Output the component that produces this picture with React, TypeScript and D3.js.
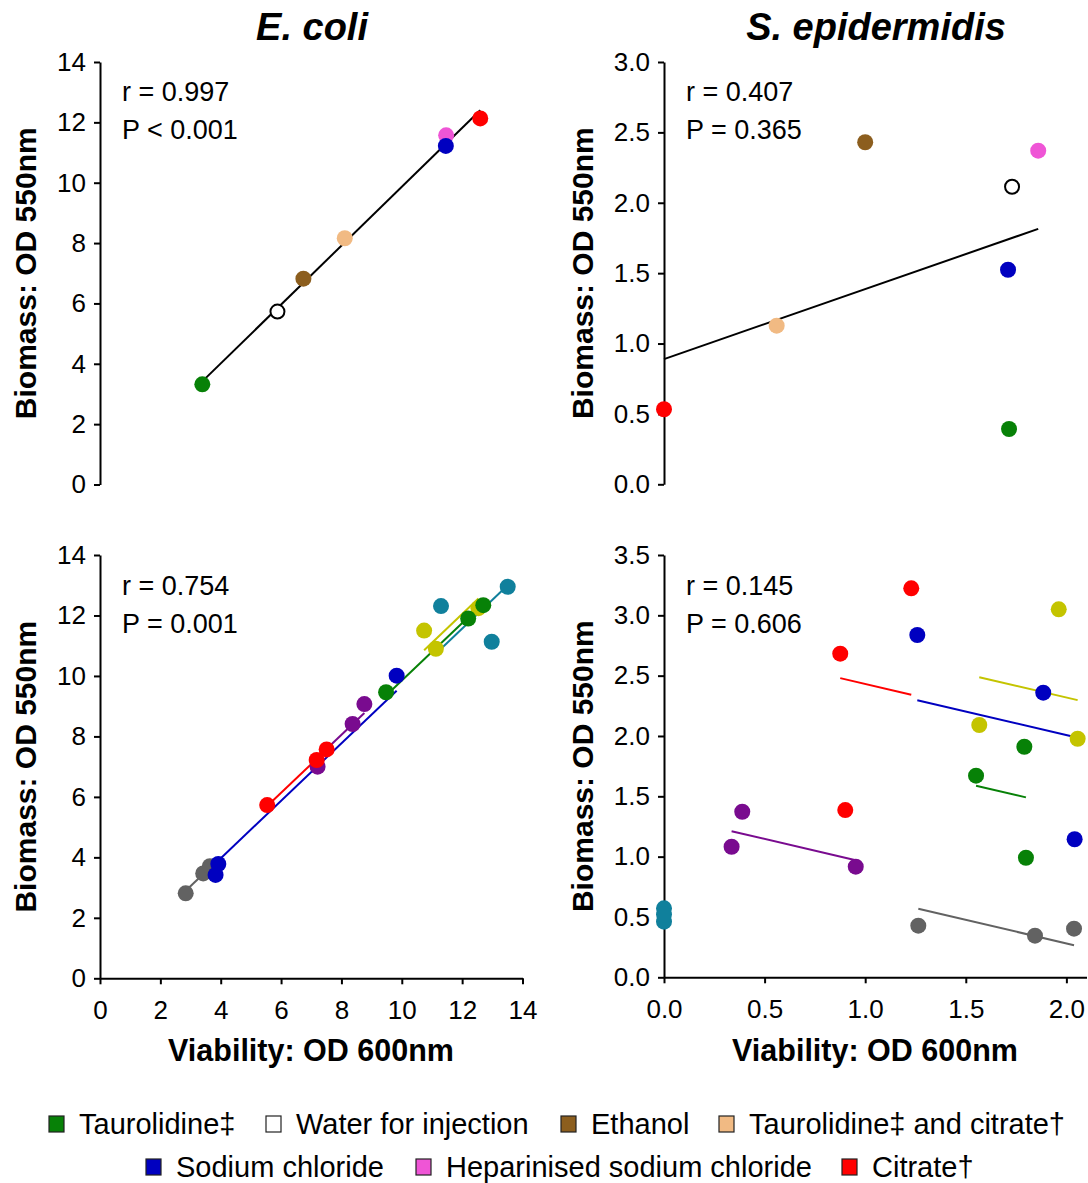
import React, { useEffect, useRef } from 'react';
import * as d3 from 'd3';

// agents (top panels + legend), in legend order
const agentNames = ['Taurolidine‡', 'Water for injection', 'Ethanol', 'Taurolidine‡ and citrate†',
  'Sodium chloride', 'Heparinised sodium chloride', 'Citrate†'];
const agentColors = ['#078107', '#ffffff', '#8c5e1e', '#f1ba83', '#0000c0', '#ef55d6', '#ff0000'];
const agentDrawOrder = [0, 1, 2, 3, 5, 4, 6];

const ecoliViability = [3.39, 5.88, 6.74, 8.11, 11.46, 11.47, 12.60];
const ecoliBiomass = [3.32, 5.73, 6.82, 8.16, 11.22, 11.57, 12.13];
const sepiViability = [1.715, 1.73, 1.0, 0.56, 1.71, 1.86, 0.0];
const sepiBiomass = [0.393, 2.114, 2.43, 1.127, 1.524, 2.37, 0.533];

// bottom panels: replicate groups
const groupColors = ['#626262', '#10809c', '#790b8f', '#c4c400', '#0000c0', '#ff0000', '#078107'];
const ecoliGroupViability = [
  [2.84, 3.42, 3.64], [11.30, 12.98, 13.51], [7.21, 8.37, 8.76], [10.74, 11.13, 12.54],
  [3.92, 3.83, 9.83], [5.54, 7.18, 7.51], [9.48, 12.20, 12.70]];
const ecoliGroupBiomass = [
  [2.81, 3.47, 3.71], [12.31, 11.13, 12.95], [7.00, 8.41, 9.07], [11.50, 10.90, 12.24],
  [3.78, 3.42, 10.01], [5.73, 7.22, 7.57], [9.46, 11.90, 12.34]];
const sepiGroupViability = [
  [1.264, 1.844, 2.038], [0.0, 0.0, 0.0], [0.336, 0.389, 0.953], [1.567, 1.962, 2.056],
  [1.259, 1.885, 2.041], [0.876, 1.229, 0.901], [1.551, 1.791, 1.799]];
const sepiGroupBiomass = [
  [0.428, 0.345, 0.403], [0.572, 0.461, 0.52], [1.082, 1.372, 0.917], [2.091, 3.05, 1.977],
  [2.837, 2.359, 1.144], [2.682, 3.224, 1.386], [1.671, 1.911, 0.991]];

const statLines = [
  ['r = 0.997', 'P < 0.001'],
  ['r = 0.407', 'P = 0.365'],
  ['r = 0.754', 'P = 0.001'],
  ['r = 0.145', 'P = 0.606'],
];
const titles = ['E. coli', 'S. epidermidis'];
const ecoliTicks = [0, 2, 4, 6, 8, 10, 12, 14];
const sepiTopTicks = [0, 0.5, 1, 1.5, 2, 2.5, 3];
const sepiBottomTicks = [0, 0.5, 1, 1.5, 2, 2.5, 3, 3.5];
const sepiXTicks = [0, 0.5, 1, 1.5, 2];

const FONT = '"Liberation Sans", Arial, sans-serif';

const App = () => {
  const svgRef = useRef();

  useEffect(() => {
    const svg = d3.select(svgRef.current);
    svg.selectAll('*').remove();

    const xE = d3.scaleLinear().domain([0, 14]).range([100, 522.5]);
    const xS = d3.scaleLinear().domain([0, 2.1]).range([664, 1086.5]);

    const panels = [
      { x: xE, y: d3.scaleLinear().domain([0, 14]).range([484.5, 62]), yt: ecoliTicks, fmt: d3.format('d'), stats: statLines[0], tx: 122, ty: 101, lx: 25 },
      { x: xS, y: d3.scaleLinear().domain([0, 3]).range([484.3, 62]), yt: sepiTopTicks, fmt: d3.format('.1f'), stats: statLines[1], tx: 686, ty: 101, lx: 582 },
      { x: xE, y: d3.scaleLinear().domain([0, 14]).range([978.3, 555]), yt: ecoliTicks, fmt: d3.format('d'), stats: statLines[2], tx: 122, ty: 595, lx: 25, xt: ecoliTicks },
      { x: xS, y: d3.scaleLinear().domain([0, 3.5]).range([977.3, 555]), yt: sepiBottomTicks, fmt: d3.format('.1f'), stats: statLines[3], tx: 686, ty: 595, lx: 582, xt: sepiXTicks },
    ];

    const styleAxis = g => {
      g.attr('font-family', FONT).attr('font-size', 26);
      g.select('.domain').attr('stroke-width', 2);
      g.selectAll('.tick line').attr('stroke-width', 2);
      g.selectAll('.tick text').attr('fill', '#000');
    };

    // titles
    svg.selectAll('text.title').data(titles).join('text')
      .attr('class', 'title')
      .attr('x', (d, i) => i === 0 ? 312 : 876)
      .attr('y', 40)
      .attr('text-anchor', 'middle')
      .attr('font-family', FONT)
      .attr('font-size', 38)
      .attr('font-weight', 'bold')
      .attr('font-style', 'italic')
      .text(d => d);

    panels.forEach((p, pi) => {
      const g = svg.append('g');
      const [y0, y1] = p.y.range();

      g.append('g')
        .attr('transform', `translate(${p.x.range()[0]},0)`)
        .call(d3.axisLeft(p.y).tickValues(p.yt).tickFormat(p.fmt).tickSize(6).tickSizeOuter(0).tickPadding(8))
        .call(styleAxis);

      if (p.xt) {
        g.append('g')
          .attr('transform', `translate(0,${y0})`)
          .call(d3.axisBottom(p.x).tickValues(p.xt).tickFormat(pi === 2 ? d3.format('d') : d3.format('.1f')).tickSize(6).tickSizeOuter(0).tickPadding(16))
          .call(styleAxis);
        g.append('text')
          .attr('x', pi === 2 ? 311 : 875)
          .attr('y', 1061)
          .attr('text-anchor', 'middle')
          .attr('font-family', FONT)
          .attr('font-size', 30.5)
          .attr('font-weight', 'bold')
          .text('Viability: OD 600nm');
      }

      g.append('text')
        .attr('transform', `translate(${p.lx},${(y0 + y1) / 2}) rotate(-90)`)
        .attr('dy', '0.36em')
        .attr('text-anchor', 'middle')
        .attr('font-family', FONT)
        .attr('font-size', 30)
        .attr('font-weight', 'bold')
        .text('Biomass: OD 550nm');

      g.selectAll('text.stat').data(p.stats).join('text')
        .attr('class', 'stat')
        .attr('x', p.tx)
        .attr('y', (d, i) => p.ty + i * 37.5)
        .attr('font-family', FONT)
        .attr('font-size', 27)
        .text(d => d);

      if (pi < 2) {
        // simple regression over agent means
        const xs = pi === 0 ? ecoliViability : sepiViability;
        const ys = pi === 0 ? ecoliBiomass : sepiBiomass;
        const mx = d3.mean(xs), my = d3.mean(ys);
        const sxy = d3.sum(xs, (v, i) => (v - mx) * (ys[i] - my));
        const sxx = d3.sum(xs, v => (v - mx) ** 2);
        const b = sxy / sxx, a = my - b * mx;
        const [xmin, xmax] = d3.extent(xs);
        g.append('line')
          .attr('x1', p.x(xmin)).attr('y1', p.y(a + b * xmin))
          .attr('x2', p.x(xmax)).attr('y2', p.y(a + b * xmax))
          .attr('stroke', '#000').attr('stroke-width', 2);

        g.selectAll('circle').data(agentDrawOrder).join('circle')
          .attr('cx', i => p.x(xs[i]))
          .attr('cy', i => p.y(ys[i]))
          .attr('r', i => agentColors[i] === '#ffffff' ? 7 : 8)
          .attr('fill', i => agentColors[i])
          .attr('stroke', i => agentColors[i] === '#ffffff' ? '#000' : 'none')
          .attr('stroke-width', 2);
      } else {
        // common within-group slope, one line per group through its mean
        const gx = pi === 2 ? ecoliGroupViability : sepiGroupViability;
        const gy = pi === 2 ? ecoliGroupBiomass : sepiGroupBiomass;
        let sxy = 0, sxx = 0;
        const means = gx.map((xs, k) => {
          const mx = d3.mean(xs), my = d3.mean(gy[k]);
          xs.forEach((v, i) => { sxy += (v - mx) * (gy[k][i] - my); sxx += (v - mx) ** 2; });
          return [mx, my];
        });
        const b = sxy / sxx;
        gx.forEach((xs, k) => {
          const [xmin, xmax] = d3.extent(xs);
          if (xmax - xmin < 1e-6) return;
          const [mx, my] = means[k];
          g.append('line')
            .attr('x1', p.x(xmin)).attr('y1', p.y(my + b * (xmin - mx)))
            .attr('x2', p.x(xmax)).attr('y2', p.y(my + b * (xmax - mx)))
            .attr('stroke', groupColors[k]).attr('stroke-width', 2);
        });
        gx.forEach((xs, k) => {
          g.append('g').selectAll('circle').data(xs).join('circle')
            .attr('cx', v => p.x(v))
            .attr('cy', (v, i) => p.y(gy[k][i]))
            .attr('r', 8)
            .attr('fill', groupColors[k]);
        });
      }
    });

    // legend
    const legendX = [49, 266, 561, 719, 146, 416, 842];
    const legend = svg.append('g');
    agentNames.forEach((name, i) => {
      const cy = i < 4 ? 1124 : 1167;
      legend.append('rect')
        .attr('x', legendX[i]).attr('y', cy - 8)
        .attr('width', 15).attr('height', 16)
        .attr('fill', agentColors[i])
        .attr('stroke', '#222').attr('stroke-width', 1.2);
      legend.append('text')
        .attr('x', legendX[i] + 30).attr('y', cy + 10)
        .attr('font-family', FONT)
        .attr('font-size', 29)
        .text(name);
    });
  }, []);

  return (
    <svg ref={svgRef} width={1088} height={1183}
      style={{ position: 'absolute', left: 0, top: 0, background: '#fff' }} />
  );
};

export default App;
